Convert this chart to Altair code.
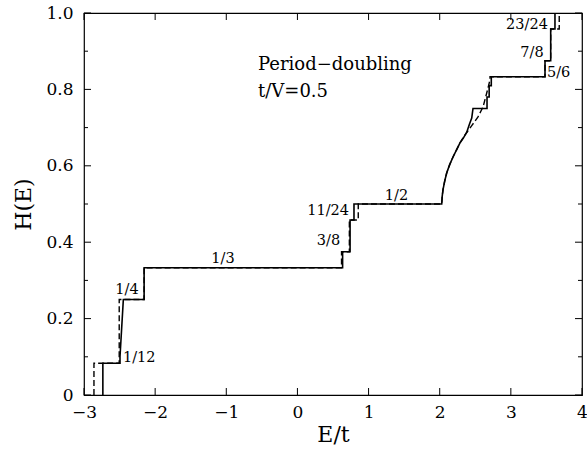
import altair as alt
import pandas as pd

# ---- data ----
solid_E = [-2.735, -2.735, -2.494, -2.494, -2.447, -2.155, -2.155, 0.635, 0.635, 0.74, 0.74,
           0.795, 0.795, 2.028, 2.035, 2.046, 2.07, 2.098, 2.14, 2.187, 2.24, 2.285, 2.33,
           2.38, 2.42, 2.45, 2.468, 2.665, 2.665, 2.695, 2.695, 2.725, 2.725, 3.48, 3.48,
           3.56, 3.56, 3.62, 3.62]
solid_H = [0.0, 0.0833, 0.0833, 0.10, 0.25, 0.25, 0.3333, 0.3333, 0.375, 0.375, 0.4583,
           0.4583, 0.5, 0.5, 0.52, 0.537, 0.56, 0.581, 0.603, 0.623, 0.643, 0.66, 0.672,
           0.688, 0.71, 0.725, 0.75, 0.75, 0.78, 0.78, 0.81, 0.81, 0.8333, 0.8333, 0.875,
           0.875, 0.9583, 0.9583, 1.0]

dash_E = [-2.86, -2.86, -2.505, -2.505, -2.155, -2.155, 0.62, 0.62, 0.73, 0.73, 0.855,
          0.855, 2.028, 2.035, 2.046, 2.07, 2.098, 2.14, 2.187, 2.24, 2.285, 2.356, 2.45,
          2.538, 2.609, 2.66, 2.707, 2.707, 3.48, 3.48, 3.56, 3.56, 3.68, 3.68]
dash_H = [0.0, 0.0833, 0.0833, 0.25, 0.25, 0.3333, 0.3333, 0.375, 0.375, 0.4583, 0.4583,
          0.5, 0.5, 0.52, 0.537, 0.56, 0.581, 0.603, 0.623, 0.643, 0.66, 0.681, 0.705,
          0.728, 0.754, 0.79, 0.825, 0.8333, 0.8333, 0.875, 0.875, 0.9583, 0.9583, 1.0]

lab_left_text = ["1/12", "5/6"]
lab_left_E = [-2.452, 3.508]
lab_left_H = [0.097, 0.842]

lab_center_text = ["1/4", "1/3", "1/2", "7/8", "23/24"]
lab_center_E = [-2.396, -1.046, 1.393, 3.297, 3.227]
lab_center_H = [0.275, 0.356, 0.521, 0.895, 0.969]

lab_right_text = ["3/8", "11/24"]
lab_right_E = [0.60, 0.725]
lab_right_H = [0.403, 0.482]

title_lines = ["Period\u2212doubling", "t/V=0.5"]
title_E = [-0.554, -0.554]
title_H = [0.851, 0.780]

x_ticks = [-3, -2, -1, 0, 1, 2, 3, 4]
y_major = [0.0, 0.2, 0.4, 0.6, 0.8, 1.0]
y_minor = [0.1, 0.3, 0.5, 0.7, 0.9]

W, H = 498, 382
FONT = "DejaVu Serif"

xs = alt.Scale(domain=[-3, 4], nice=False, zero=False)
ys = alt.Scale(domain=[0, 1], nice=False, zero=False)

solid_df = pd.DataFrame({"E": solid_E, "H": solid_H, "i": range(len(solid_E))})
dash_df = pd.DataFrame({"E": dash_E, "H": dash_H, "i": range(len(dash_E))})

x_enc = alt.X("E:Q", scale=xs,
              axis=alt.Axis(values=x_ticks, title="E/t", grid=False, ticks=False, domain=False,
                            labelFontSize=17, labelFont=FONT, labelPadding=9, labelColor="black",
                            labelFlush=False, labelOverlap=False,
                            titleFont=FONT, titleFontSize=22, titleFontWeight="normal",
                            titlePadding=4, titleColor="black", format="d"))
y_enc = alt.Y("H:Q", scale=ys,
              axis=alt.Axis(values=y_major, title="H(E)", grid=False, ticks=False, domain=False,
                            labelFontSize=17, labelFont=FONT, labelPadding=11, labelColor="black",
                            labelFlush=False, labelOverlap=False,
                            labelExpr="datum.value == 0 ? '0' : format(datum.value, '.1f')",
                            titleFont=FONT, titleFontSize=22, titleFontWeight="normal",
                            titlePadding=10, titleColor="black"))

dashed = alt.Chart(dash_df).mark_line(color="black", strokeWidth=1.4, strokeDash=[6, 3]).encode(
    x=x_enc, y=y_enc, order="i:Q")
solid = alt.Chart(solid_df).mark_line(color="black", strokeWidth=1.6).encode(
    x=alt.X("E:Q", scale=xs), y=alt.Y("H:Q", scale=ys), order="i:Q")


def labels(texts, es, hs, align, size):
    df = pd.DataFrame({"t": texts, "E": es, "H": hs})
    return alt.Chart(df).mark_text(align=align, baseline="middle", font=FONT,
                                   fontSize=size, color="black").encode(
        x=alt.X("E:Q", scale=xs), y=alt.Y("H:Q", scale=ys), text="t:N")


lab_l = labels(lab_left_text, lab_left_E, lab_left_H, "left", 14.5)
lab_c = labels(lab_center_text, lab_center_E, lab_center_H, "center", 14.5)
lab_r = labels(lab_right_text, lab_right_E, lab_right_H, "right", 14.5)

tdf = pd.DataFrame({"t": title_lines, "E": title_E, "H": title_H})
title_txt = alt.Chart(tdf).mark_text(align="left", baseline="alphabetic", font=FONT,
                                     fontSize=18, color="black").encode(
    x=alt.X("E:Q", scale=xs), y=alt.Y("H:Q", scale=ys), text="t:N")

xt = pd.DataFrame({"v": x_ticks})
ymaj = pd.DataFrame({"v": y_major})
ymin = pd.DataFrame({"v": y_minor})

tick_bottom = alt.Chart(xt).mark_rule(color="black", strokeWidth=1).encode(
    x=alt.X("v:Q", scale=xs), y=alt.value(H), y2=alt.value(H - 7))
tick_top = alt.Chart(xt).mark_rule(color="black", strokeWidth=1).encode(
    x=alt.X("v:Q", scale=xs), y=alt.value(0), y2=alt.value(7))
tick_left_maj = alt.Chart(ymaj).mark_rule(color="black", strokeWidth=1).encode(
    y=alt.Y("v:Q", scale=ys), x=alt.value(0), x2=alt.value(7))
tick_left_min = alt.Chart(ymin).mark_rule(color="black", strokeWidth=1).encode(
    y=alt.Y("v:Q", scale=ys), x=alt.value(0), x2=alt.value(4))
tick_right_maj = alt.Chart(ymaj).mark_rule(color="black", strokeWidth=1).encode(
    y=alt.Y("v:Q", scale=ys), x=alt.value(W), x2=alt.value(W - 7))
tick_right_min = alt.Chart(ymin).mark_rule(color="black", strokeWidth=1).encode(
    y=alt.Y("v:Q", scale=ys), x=alt.value(W), x2=alt.value(W - 4))

chart = alt.layer(
    dashed, solid, lab_l, lab_c, lab_r, title_txt,
    tick_bottom, tick_top, tick_left_maj, tick_left_min, tick_right_maj, tick_right_min
).properties(
    width=W, height=H,
    padding={"left": 84, "top": 13, "right": 5, "bottom": 59},
    autosize=alt.AutoSizeParams(type="none"),
    background="white",
).configure_view(stroke="black", strokeWidth=1.2)

chart.save("out.html", embed_options={"renderer": "svg", "actions": False})
